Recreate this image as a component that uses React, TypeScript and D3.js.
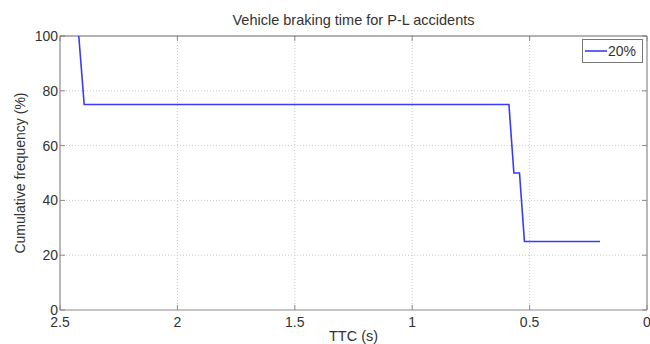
import React from "react";
import * as d3 from "d3";

// Braking-time curve: TTC (s) vs cumulative frequency (%)
const ttcValues = [2.42, 2.397, 0.588, 0.567, 0.543, 0.522, 0.2];
const freqValues = [100, 75, 75, 50, 50, 25, 25];
const xTicks = [2.5, 2, 1.5, 1, 0.5, 0];
const yTicks = [0, 20, 40, 60, 80, 100];
const seriesName = "20%";

const W = 650;
const H = 344;
const M = { left: 60, right: 647, top: 36, bottom: 310 };

export default function App() {
  const x = d3.scaleLinear().domain([2.5, 0]).range([M.left, M.right]);
  const y = d3.scaleLinear().domain([0, 100]).range([M.bottom, M.top]);
  const pts: [number, number][] = ttcValues.map((t, i) => [t, freqValues[i]]);
  const line = d3
    .line<[number, number]>()
    .x((d) => x(d[0]))
    .y((d) => y(d[1]));

  const font = "'Liberation Sans', Arial, sans-serif";
  const textColor = "#333";
  const axisColor = "#8a8a8a";
  const tickLen = 5;

  return (
    <svg
      width={W}
      height={H}
      style={{ position: "absolute", left: 0, top: 0, background: "#fff" }}
      fontFamily={font}
    >
      <rect x={0} y={0} width={W} height={H} fill="#fff" />
      {/* grid */}
      {xTicks
        .filter((t) => t !== 2.5 && t !== 0)
        .map((t) => (
          <line
            key={"gx" + t}
            x1={x(t)}
            x2={x(t)}
            y1={M.top}
            y2={M.bottom}
            stroke="#c8c8c8"
            strokeWidth={1}
            strokeDasharray="1,2"
          />
        ))}
      {yTicks
        .filter((t) => t !== 0 && t !== 100)
        .map((t) => (
          <line
            key={"gy" + t}
            x1={M.left}
            x2={M.right}
            y1={y(t)}
            y2={y(t)}
            stroke="#c8c8c8"
            strokeWidth={1}
            strokeDasharray="1,2"
          />
        ))}
      {/* ticks (inward on all sides) */}
      {xTicks.map((t) => (
        <g key={"tx" + t} stroke={axisColor} strokeWidth={1}>
          <line x1={x(t)} x2={x(t)} y1={M.bottom} y2={M.bottom - tickLen} />
          <line x1={x(t)} x2={x(t)} y1={M.top} y2={M.top + tickLen} />
        </g>
      ))}
      {yTicks.map((t) => (
        <g key={"ty" + t} stroke={axisColor} strokeWidth={1}>
          <line x1={M.left} x2={M.left + tickLen} y1={y(t)} y2={y(t)} />
          <line x1={M.right} x2={M.right - tickLen} y1={y(t)} y2={y(t)} />
        </g>
      ))}
      {/* box */}
      <line x1={M.left} x2={M.right} y1={M.top} y2={M.top} stroke="#666" strokeWidth={1} />
      <line x1={M.left} x2={M.right} y1={M.bottom} y2={M.bottom} stroke={axisColor} strokeWidth={1.2} />
      <line x1={M.left} x2={M.left} y1={M.top} y2={M.bottom} stroke={axisColor} strokeWidth={1.2} />
      <line x1={M.right} x2={M.right} y1={M.top} y2={M.bottom} stroke={axisColor} strokeWidth={1.2} />

      {/* data */}
      <path d={line(pts) || ""} fill="none" stroke="#3a3aff" strokeWidth={1.6} />

      {/* tick labels */}
      {xTicks.map((t) => (
        <text
          key={"lx" + t}
          x={x(t)}
          y={327}
          textAnchor="middle"
          fontSize={14}
          fill={textColor}
        >
          {String(t)}
        </text>
      ))}
      {yTicks.map((t) => (
        <text
          key={"ly" + t}
          x={M.left - 2}
          y={y(t) + 5}
          textAnchor="end"
          fontSize={14}
          fill={textColor}
        >
          {String(t)}
        </text>
      ))}

      {/* title and axis labels */}
      <text x={(M.left + M.right) / 2} y={25} textAnchor="middle" fontSize={14.5} fill={textColor}>
        Vehicle braking time for P-L accidents
      </text>
      <text x={(M.left + M.right) / 2} y={341} textAnchor="middle" fontSize={14.5} fill={textColor}>
        TTC (s)
      </text>
      <text
        transform={`translate(25, ${(M.top + M.bottom) / 2}) rotate(-90)`}
        textAnchor="middle"
        fontSize={14}
        fill={textColor}
      >
        Cumulative frequency (%)
      </text>

      {/* legend */}
      <rect x={582.5} y={39.5} width={60} height={23} fill="#fff" stroke="#777" strokeWidth={1} />
      <line x1={585} x2={607} y1={51} y2={51} stroke="#3a3aff" strokeWidth={1.6} />
      <text x={608} y={56} fontSize={14} fill={textColor}>
        {seriesName}
      </text>
    </svg>
  );
}
